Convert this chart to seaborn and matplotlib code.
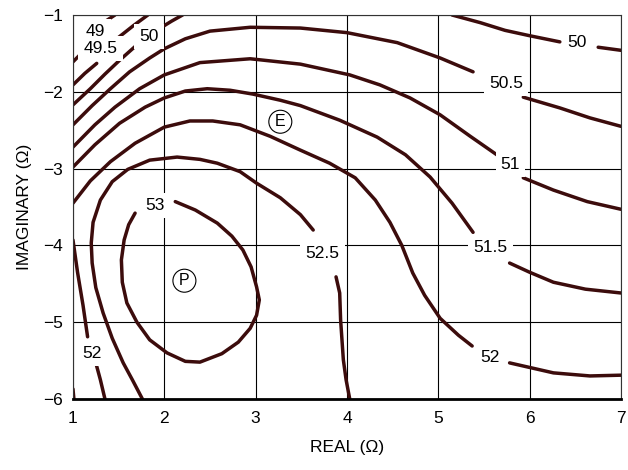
import numpy as np
import pandas as pd
import matplotlib
matplotlib.use("Agg")
import matplotlib.pyplot as plt
import seaborn as sns

nan = np.nan

# contour strokes per level (REAL, IMAGINARY); nan marks a gap left for a label
c49_x = [1.00, 1.10, nan, 1.37, 1.46]
c49_y = [-1.61, -1.49, nan, -1.07, -1.00]

c495_x = [1.00, 1.13, 1.26, nan, 1.49, 1.66, 1.82]
c495_y = [-1.91, -1.76, -1.63, nan, -1.30, -1.14, -1.00]

c50_x = [1.00, 1.19, 1.35, 1.51, 1.69, nan, 1.97, 2.08, 2.20, nan,
         5.15, 5.46, 5.73, 6.00, 6.33, nan, 6.75, 7.00]
c50_y = [-2.17, -1.96, -1.77, -1.59, -1.40, nan, -1.16, -1.08, -1.00, nan,
         -1.00, -1.10, -1.20, -1.27, -1.35, nan, -1.42, -1.46]

c505_x = [1.00, 1.21, 1.41, 1.62, 1.84, 2.00, 2.23, 2.50, 2.94, 3.49, 4.00, 4.55, 5.02, 5.38,
          nan, 5.93, 6.33, 6.66, 7.00]
c505_y = [-2.43, -2.18, -1.96, -1.74, -1.56, -1.44, -1.31, -1.21, -1.16, -1.17, -1.23, -1.36, -1.56, -1.74,
          nan, -2.07, -2.21, -2.34, -2.45]

c51_x = [1.00, 1.24, 1.46, 1.73, 2.00, 2.39, 2.94, 3.49, 4.03, 4.36, 4.69, 5.02, 5.35, 5.64,
         nan, 5.93, 6.26, 6.63, 7.00]
c51_y = [-2.72, -2.43, -2.20, -1.96, -1.78, -1.62, -1.57, -1.64, -1.78, -1.91, -2.08, -2.30, -2.58, -2.82,
         nan, -3.12, -3.28, -3.43, -3.53]

c515_x = [1.00, 1.24, 1.51, 1.79, 2.00, 2.23, 2.47, 2.72, 2.97, 3.27, 3.49, 3.92, 4.33, 4.64, 4.91, 5.15, 5.38,
          nan, 5.78, 6.00, 6.26, 6.61, 7.00]
c515_y = [-2.98, -2.69, -2.41, -2.20, -2.08, -1.99, -1.96, -1.98, -2.03, -2.11, -2.18, -2.37, -2.59, -2.82, -3.11, -3.45, -3.83,
          nan, -4.23, -4.35, -4.48, -4.57, -4.62]

c52_x = [1.00, 1.19, 1.41, 1.68, 2.00, 2.28, 2.53, 2.83, 3.16, 3.49, 3.81, 4.09, 4.31, 4.47, 4.60, 4.72, 4.85, 5.02, 5.22, 5.37,
         nan, 5.78, 6.26, 6.66, 7.00,
         nan, 1.00, 1.05, 1.11, 1.16, nan, 1.25, 1.30, 1.35,
         nan, 1.00, 1.01]
c52_y = [-3.45, -3.16, -2.91, -2.67, -2.46, -2.38, -2.38, -2.43, -2.58, -2.76, -2.93, -3.12, -3.41, -3.70, -4.00, -4.36, -4.65, -4.95, -5.17, -5.31,
         nan, -5.53, -5.66, -5.70, -5.69,
         nan, -3.93, -4.35, -4.78, -5.19, nan, -5.53, -5.75, -6.00,
         nan, -5.87, -6.00]

c525_x = [1.76, 1.65, 1.55, 1.43, 1.33, 1.25, 1.21, 1.20, 1.22, 1.30, 1.43, 1.60, 1.84, 2.14, 2.39, 2.58, 2.83, 3.01, 3.27, 3.49, 3.63,
          nan, 3.88, 3.92, 3.93, 3.96, 3.99, 4.03]
c525_y = [-6.00, -5.75, -5.53, -5.21, -4.88, -4.55, -4.23, -3.97, -3.70, -3.41, -3.17, -3.01, -2.89, -2.85, -2.88, -2.93, -3.04, -3.19, -3.38, -3.60, -3.80,
          nan, -4.41, -4.62, -4.97, -5.49, -5.75, -6.00]

c53_x = [2.12, 2.34, 2.58, 2.74, 2.86, 2.95, 3.01, 3.04, 3.01, 2.94, 2.81, 2.63, 2.39, 2.23, 2.03, 1.84, 1.70,
         1.59, 1.54, 1.53, 1.56, 1.61, 1.68]
c53_y = [-3.43, -3.54, -3.71, -3.88, -4.06, -4.28, -4.54, -4.71, -4.91, -5.08, -5.26, -5.41, -5.52, -5.51, -5.40, -5.23, -5.00,
         -4.75, -4.48, -4.19, -3.93, -3.73, -3.58]

# inline contour labels
label_text = ["49", "49.5", "50", "50", "50.5", "51", "51.5", "52", "52", "52.5", "53"]
label_x = [1.25, 1.30, 1.83, 6.52, 5.74, 5.79, 5.57, 5.57, 1.21, 3.73, 1.90]
label_y = [-1.22, -1.44, -1.28, -1.36, -1.89, -2.95, -4.03, -5.46, -5.41, -4.11, -3.48]

# circled markers
mark_text = ["E", "P"]
mark_x = [3.27, 2.22]
mark_y = [-2.39, -4.46]

x_ticks = [1, 2, 3, 4, 5, 6, 7]
y_ticks = [-6, -5, -4, -3, -2, -1]
y_tick_labels = ["\u22126", "\u22125", "\u22124", "\u22123", "\u22122", "\u22121"]

LINE = "#3c0c0c"
FONT = ["Liberation Sans Narrow", "Liberation Sans", "DejaVu Sans"]

levels = [("49", c49_x, c49_y), ("49.5", c495_x, c495_y), ("50", c50_x, c50_y),
          ("50.5", c505_x, c505_y), ("51", c51_x, c51_y), ("51.5", c515_x, c515_y),
          ("52", c52_x, c52_y), ("52.5", c525_x, c525_y), ("53", c53_x, c53_y)]

rows = []
for name, xs, ys in levels:
    piece = 0
    for x, y in zip(xs, ys):
        if np.isnan(x):
            piece += 1
            continue
        rows.append((f"{name}-{piece}", x, y))
df = pd.DataFrame(rows, columns=["piece", "real", "imag"])

sns.set_theme(style="white")
plt.rcParams["font.family"] = FONT

fig = plt.figure(figsize=(6.28, 4.70), dpi=100)
ax = fig.add_axes([0.1162, 0.1511, 0.8727, 0.8170])

sns.lineplot(data=df, x="real", y="imag", units="piece", estimator=None, sort=False,
             color=LINE, linewidth=2.5, solid_capstyle="round", solid_joinstyle="round",
             legend=False, ax=ax, zorder=2)

for t, x, y in zip(label_text, label_x, label_y):
    ax.text(x, y, t, ha="center", va="center", fontsize=12.5, color="black", zorder=4,
            bbox=dict(boxstyle="square,pad=0.3", facecolor="white", edgecolor="none"))

for t, x, y in zip(mark_text, mark_x, mark_y):
    ax.text(x, y, t, ha="center", va="center", fontsize=11.5, color="black", zorder=4,
            bbox=dict(boxstyle="circle,pad=0.25", facecolor="white", edgecolor="black", linewidth=0.8))

ax.set_xlim(1, 7)
ax.set_ylim(-6, -1)
ax.set_xticks(x_ticks)
ax.set_xticklabels([str(v) for v in x_ticks])
ax.set_yticks(y_ticks)
ax.set_yticklabels(y_tick_labels)
ax.grid(True, color="black", linewidth=0.8)
ax.set_axisbelow(True)

for side in ["top", "right", "left"]:
    ax.spines[side].set_color("#333333")
    ax.spines[side].set_linewidth(0.8)
ax.spines["bottom"].set_color("black")
ax.spines["bottom"].set_linewidth(2.0)

ax.tick_params(axis="x", length=0, pad=9, labelsize=12.5, colors="black")
ax.tick_params(axis="y", length=0, pad=7, labelsize=12.5, colors="black")
ax.set_xlabel("REAL (\u03a9)", fontsize=12.5, labelpad=10, color="black")
ax.set_ylabel("IMAGINARY (\u03a9)", fontsize=12.5, labelpad=8, color="black")

fig.savefig("out.png", dpi=100)
